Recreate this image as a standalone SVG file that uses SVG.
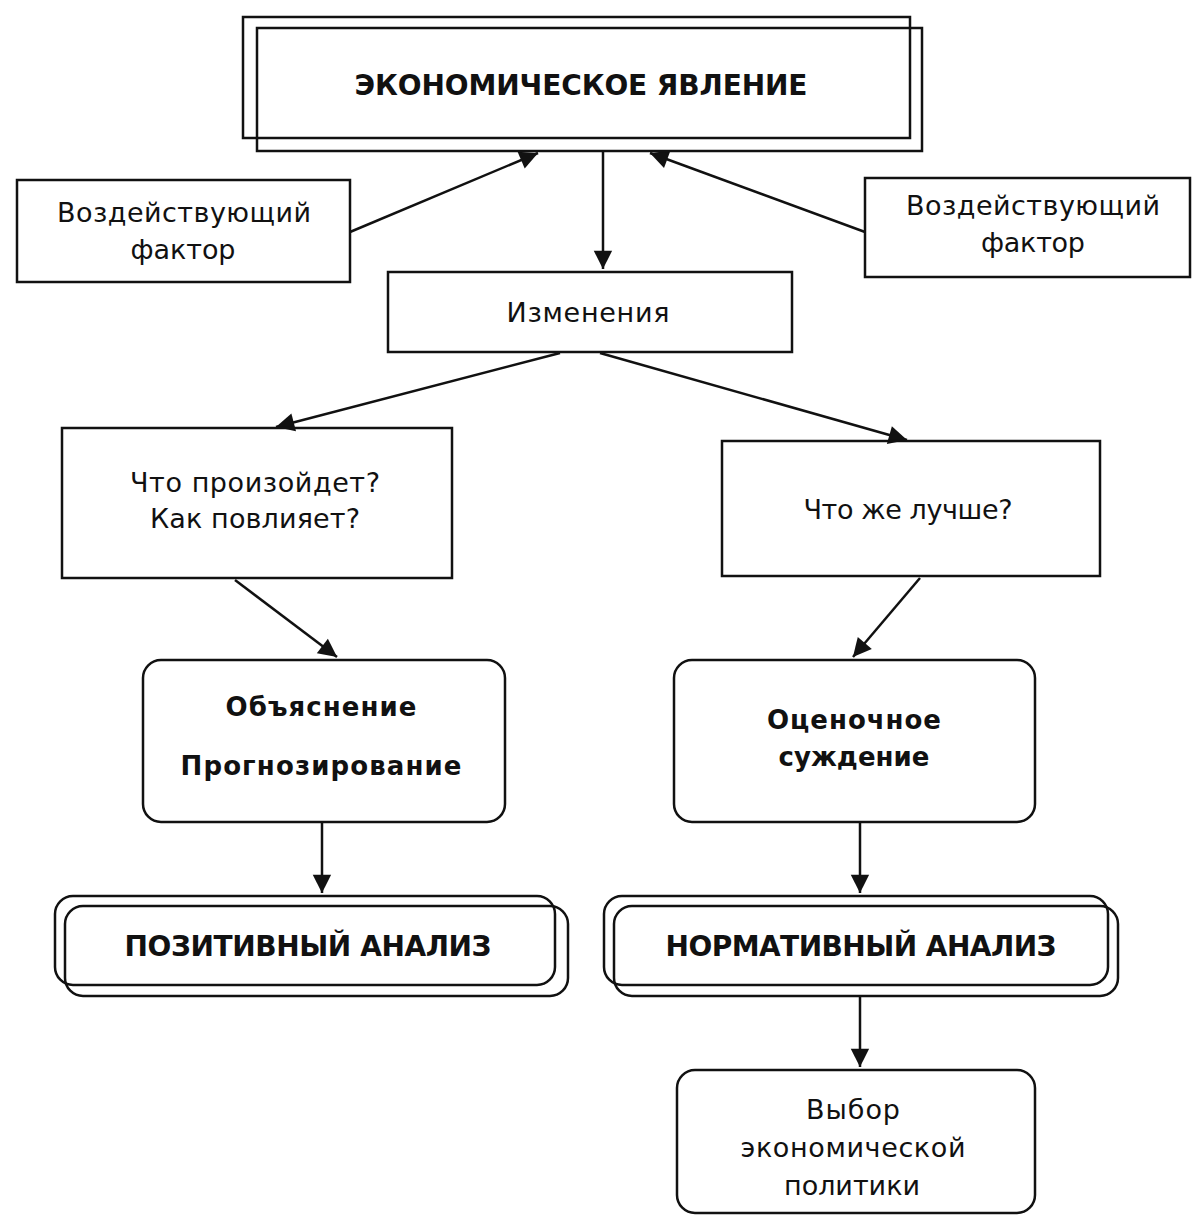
<svg xmlns="http://www.w3.org/2000/svg" width="1192" height="1216" viewBox="0 0 1192 1216">
<style>
.box{fill:none;stroke:#111;stroke-width:2.5}
.t{font-family:"DejaVu Sans","Liberation Sans",Arial,sans-serif;font-size:27px;fill:#111;text-anchor:middle}
.b{font-weight:bold;font-size:26px}
.cap{font-family:"DejaVu Sans","Liberation Sans",Arial,sans-serif;font-size:28px;font-weight:bold;fill:#111;text-anchor:middle}
.c{stroke:#111;stroke-width:2.5;fill:none;marker-end:url(#ah)}
</style>
<defs>
<marker id="ah" viewBox="0 0 10 10" refX="10" refY="5" markerWidth="8" markerHeight="8" markerUnits="userSpaceOnUse" orient="auto" overflow="visible">
<path d="M0,0 L10,5 L0,10 z" fill="#111" transform="scale(2.3) translate(-5.6,-2.8)"/>
</marker>
</defs>
<rect width="1192" height="1216" fill="#fff"/>
<g id="connectors">
<line class="c" x1="350" y1="232" x2="538" y2="153"/>
<line class="c" x1="865" y1="232" x2="650" y2="153"/>
<line class="c" x1="603" y1="152" x2="603" y2="269"/>
<line class="c" x1="560" y1="353" x2="276" y2="427"/>
<line class="c" x1="600" y1="353" x2="907" y2="440"/>
<line class="c" x1="235" y1="580" x2="337" y2="657"/>
<line class="c" x1="920" y1="578" x2="853" y2="657"/>
<line class="c" x1="322" y1="822" x2="322" y2="893"/>
<line class="c" x1="860" y1="822" x2="860" y2="893"/>
<line class="c" x1="860" y1="996" x2="860" y2="1067"/>
</g>
<g id="n-top">
<rect class="box" x="243" y="17" width="667" height="121"/>
<rect class="box" x="257" y="28" width="665" height="123"/>
<text class="cap" x="581" y="95" textLength="453">ЭКОНОМИЧЕСКОЕ ЯВЛЕНИЕ</text>
</g>
<g id="n-factor-left">
<rect class="box" x="17" y="180" width="333" height="102"/>
<text class="t" x="184" y="222" textLength="254">Воздействующий</text>
<text class="t" x="183" y="259" textLength="105">фактор</text>
</g>
<g id="n-factor-right">
<rect class="box" x="865" y="178" width="325" height="99"/>
<text class="t" x="1033" y="215" textLength="254">Воздействующий</text>
<text class="t" x="1033" y="252" textLength="104">фактор</text>
</g>
<g id="n-change">
<rect class="box" x="388" y="272" width="404" height="80"/>
<text class="t" x="588" y="322" textLength="163">Изменения</text>
</g>
<g id="n-q-left">
<rect class="box" x="62" y="428" width="390" height="150"/>
<text class="t" x="255" y="492" textLength="250">Что произойдет?</text>
<text class="t" x="255" y="528" textLength="210">Как повлияет?</text>
</g>
<g id="n-q-right">
<rect class="box" x="722" y="441" width="378" height="135"/>
<text class="t" x="908" y="519" textLength="209">Что же лучше?</text>
</g>
<g id="n-explain">
<rect class="box" x="143" y="660" width="362" height="162" rx="18"/>
<text class="t b" x="321" y="716" textLength="191">Объяснение</text>
<text class="t b" x="321" y="775" textLength="281">Прогнозирование</text>
</g>
<g id="n-judge">
<rect class="box" x="674" y="660" width="361" height="162" rx="18"/>
<text class="t b" x="854" y="729" textLength="174">Оценочное</text>
<text class="t b" x="854" y="766" textLength="151">суждение</text>
</g>
<g id="n-positive">
<rect class="box" x="55" y="896" width="500" height="89" rx="18"/>
<rect class="box" x="65" y="906" width="503" height="90" rx="18"/>
<text class="cap" x="308" y="956" textLength="367">ПОЗИТИВНЫЙ АНАЛИЗ</text>
</g>
<g id="n-normative">
<rect class="box" x="604" y="896" width="504" height="89" rx="18"/>
<rect class="box" x="614" y="906" width="504" height="90" rx="18"/>
<text class="cap" x="861" y="956" textLength="391">НОРМАТИВНЫЙ АНАЛИЗ</text>
</g>
<g id="n-policy">
<rect class="box" x="677" y="1070" width="358" height="143" rx="18"/>
<text class="t" x="853" y="1119" textLength="94">Выбор</text>
<text class="t" x="853" y="1157" textLength="225">экономической</text>
<text class="t" x="852" y="1195" textLength="136">политики</text>
</g>
</svg>
